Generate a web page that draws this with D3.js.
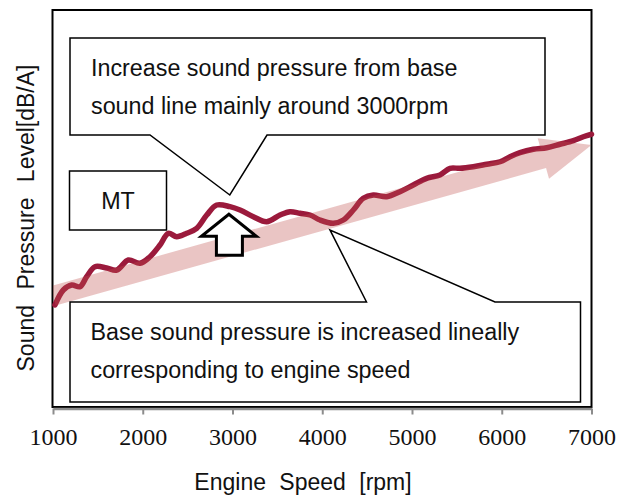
<!DOCTYPE html>
<html>
<head>
<meta charset="utf-8">
<script src="https://cdn.jsdelivr.net/npm/d3@7"></script>
<style>
  html, body { margin: 0; padding: 0; background: #fff; }
  svg { display: block; }
</style>
</head>
<body>
<svg id="chart" width="632" height="498"></svg>
<script>
// ---- data ----
const rpm = [1022, 1115, 1208, 1301, 1375, 1468, 1598, 1710, 1839, 1969, 2081, 2192, 2285, 2378, 2490, 2601, 2713, 2824, 2972, 3084, 3232, 3381, 3529, 3641, 3752, 3864, 3975, 4123, 4235, 4346, 4457, 4569, 4718, 4866, 5014, 5163, 5312, 5423, 5535, 5683, 5832, 5981, 6092, 6203, 6352, 6501, 6649, 6798, 6909, 7000];
const spl = [62.85, 64.74, 65.37, 65.15, 66.41, 67.67, 67.51, 67.25, 68.51, 68.10, 68.93, 70.40, 71.88, 71.45, 71.88, 72.51, 74.18, 75.44, 75.23, 74.81, 73.97, 73.34, 74.18, 74.60, 74.40, 74.18, 73.55, 73.14, 73.55, 74.81, 76.28, 76.70, 76.49, 77.12, 77.96, 78.80, 79.22, 80.06, 80.06, 80.26, 80.57, 80.89, 81.52, 82.03, 82.46, 82.66, 83.09, 83.54, 84.04, 84.35];
const baseRpm = [1000, 7000];
const baseSpl = [64.0, 83.0];
const xTicks = [1000, 2000, 3000, 4000, 5000, 6000, 7000];
const xLabel = "Engine Speed [rpm]";
const yLabel = "Sound Pressure Level[dB/A]";
const seriesName = "MT";
const note1 = ["Increase sound pressure from base", "sound line mainly around 3000rpm"];
const note2 = ["Base sound pressure is increased lineally", "corresponding to engine speed"];
const note1Tip = [2970, 76.7];
const note2Tip = [4086, 72.3];
const riseAt = [2960, 74.4];

// ---- layout ----
const svg = d3.select("#chart");
const L = 53, R = 591.5, T = 10, B = 407;
const x = d3.scaleLinear().domain([1000, 7000]).range([L, R]);
const y = d3.scaleLinear().domain([50, 100]).range([B, T]);
const sans = "'Liberation Sans', Arial, sans-serif";
const serif = "'Liberation Serif', 'DejaVu Serif', serif";

// frame
svg.append("rect").attr("x", 52.5).attr("y", T).attr("width", R - 52.5).attr("height", B - T)
  .attr("fill", "none").attr("stroke", "#000").attr("stroke-width", 2);

// x axis
const ax = svg.append("g").attr("transform", `translate(0,${B + 1.5})`)
  .call(d3.axisBottom(x).tickValues(xTicks).tickFormat(d3.format("d")).tickSize(6).tickSizeOuter(0).tickPadding(13));
ax.select(".domain").attr("stroke", "#8c8c8c").attr("stroke-width", 2.5);
ax.selectAll(".tick line").attr("stroke", "#8c8c8c").attr("stroke-width", 2);
ax.selectAll(".tick text").attr("font-family", serif).attr("font-size", 24).attr("fill", "#111");

// axis titles
svg.append("text").attr("x", 303).attr("y", 490).attr("text-anchor", "middle")
  .attr("font-family", sans).attr("font-size", 23).attr("word-spacing", 7).attr("fill", "#111").text(xLabel);
svg.append("text").attr("transform", "translate(34,218) rotate(-90)").attr("text-anchor", "middle")
  .attr("font-family", sans).attr("font-size", 23).attr("word-spacing", 9).attr("fill", "#111").text(yLabel);

// measured curve
const line = d3.line().x((d, i) => x(rpm[i])).y(d => y(d)).curve(d3.curveCatmullRom.alpha(0.5));
svg.append("path").datum(spl).attr("d", line).attr("fill", "none")
  .attr("stroke", "#9b1a3c").attr("stroke-width", 5.5).attr("stroke-linecap", "round").attr("stroke-linejoin", "round");

// base arrow (translucent, on top of curve)
(function () {
  const x0 = x(baseRpm[0]), y0 = y(baseSpl[0]), x1 = x(baseRpm[1]), y1 = y(baseSpl[1]);
  const dx = x1 - x0, dy = y1 - y0, len = Math.hypot(dx, dy);
  const ux = dx / len, uy = dy / len, px = -uy, py = ux;
  const hw = 10, hh = 21, hl = 50;
  const bx = x1 - ux * hl, by = y1 - uy * hl;
  const pts = [
    [x0 + px * hw, y0 + py * hw],
    [bx + px * hw, by + py * hw],
    [bx + px * hh, by + py * hh],
    [x1, y1],
    [bx - px * hh, by - py * hh],
    [bx - px * hw, by - py * hw],
    [x0 - px * hw, y0 - py * hw]
  ];
  svg.append("defs").append("clipPath").attr("id", "clipL").append("rect")
    .attr("x", 53).attr("y", 0).attr("width", 600).attr("height", 498);
  svg.append("polygon").attr("points", pts.map(p => p.join(",")).join(" "))
    .attr("clip-path", "url(#clipL)")
    .attr("fill", "#c0504d").attr("fill-opacity", 0.33);
})();

// callout 1 (top)
(function () {
  const bx0 = 70, by0 = 38, bx1 = 545, by1 = 135;
  const tx = x(note1Tip[0]), ty = y(note1Tip[1]);
  const p = `M${bx0},${by0}H${bx1}V${by1}H267L${tx},${ty}L150,${by1}H${bx0}Z`;
  svg.append("path").attr("d", p).attr("fill", "#fff").attr("stroke", "#000").attr("stroke-width", 1.5);
  note1.forEach((t, i) => svg.append("text").attr("x", 91).attr("y", 76 + i * 38)
    .attr("font-family", sans).attr("font-size", 23.3).attr("fill", "#111").text(t));
})();

// callout 2 (bottom)
(function () {
  const bx0 = 70, by0 = 302, bx1 = 580.5, by1 = 402;
  const tx = x(note2Tip[0]), ty = y(note2Tip[1]);
  const p = `M${bx0},${by0}H366.5L${tx},${ty}L495,${by0}H${bx1}V${by1}H${bx0}Z`;
  svg.append("path").attr("d", p).attr("fill", "#fff").attr("stroke", "#000").attr("stroke-width", 1.5);
  note2.forEach((t, i) => svg.append("text").attr("x", 90.5).attr("y", 340 + i * 38)
    .attr("font-family", sans).attr("font-size", 23.3).attr("fill", "#111").text(t));
})();

// series label box
svg.append("rect").attr("x", 69.5).attr("y", 171).attr("width", 97).attr("height", 59)
  .attr("fill", "#fff").attr("stroke", "#000").attr("stroke-width", 1.5);
svg.append("text").attr("x", 118).attr("y", 208.5).attr("text-anchor", "middle")
  .attr("font-family", sans).attr("font-size", 23.3).attr("fill", "#111").text(seriesName);

// hollow up arrow
(function () {
  const cx = x(riseAt[0]), tipY = y(riseAt[1]) + 1;
  const p = `M${cx},${tipY}L${cx + 27.5},${tipY + 22}H${cx + 13.5}V${tipY + 41}H${cx - 12.5}V${tipY + 22}H${cx - 27.5}Z`;
  svg.append("path").attr("d", p).attr("fill", "#fff").attr("stroke", "#000").attr("stroke-width", 3).attr("stroke-linejoin", "miter");
})();
</script>
</body>
</html>
